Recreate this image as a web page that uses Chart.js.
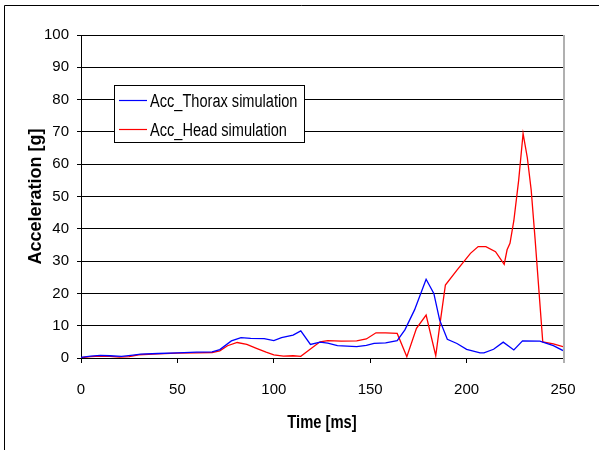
<!DOCTYPE html>
<html>
<head>
<meta charset="utf-8">
<script src="https://cdn.jsdelivr.net/npm/chart.js@4"></script>
<style>
html,body{margin:0;padding:0;background:#fff;}
#wrap{position:relative;width:599px;height:450px;}
canvas{display:block;}
</style>
</head>
<body>
<div id="wrap"><canvas id="c" width="599" height="450"></canvas></div>
<script>
// ---- data ----
const seriesNames = ['Acc_Thorax simulation', 'Acc_Head simulation'];
const thoraxTime = [0,5,10,15,21,27,31,40,50,60,68,72,78,83,88,95,100,104,110,114,119,124,128,133,143,148,152,158,164,168,173,179,183,186,190,195,200,207,209,214,219,224.5,229,238,245,250];
const thoraxAcc  = [0.2,0.6,0.8,0.7,0.5,0.9,1.2,1.4,1.6,1.8,1.9,2.6,5.3,6.3,6.1,6.0,5.4,6.3,7.1,8.4,4.2,4.9,4.6,3.8,3.5,3.9,4.5,4.7,5.4,8.7,14.9,24.4,20.0,11.8,5.8,4.5,2.7,1.6,1.6,2.7,4.9,2.5,5.3,5.2,3.8,2.3];
const headTime = [0,5,10,15,20,25,30,40,50,60,68,72,76,81,86,91,96,100,105,110,114,119,124,128,135,143,148,153,158,164,169,174,179,184,186,189,195,202,206,210,215,219.5,221,222.5,224.5,227,229.3,231.5,233.5,235.5,239.5,245,250];
const headAcc  = [0.1,0.4,0.6,0.5,0.3,0.4,1.0,1.3,1.5,1.6,1.7,2.2,3.8,4.8,4.2,3.0,1.8,1.0,0.6,0.7,0.5,2.8,5.0,5.4,5.2,5.3,5.9,7.8,7.8,7.6,0.4,9.2,13.3,0.7,9.7,22.6,27.2,32.4,34.5,34.5,32.9,29.0,33.5,35.5,42.5,55,69.5,62,52,37,5.0,4.4,3.5];
const xTitle = 'Time [ms]';
const yTitle = 'Acceleration [g]';

const toPts = (t, v) => t.map((x, i) => ({x: x, y: v[i]}));

const decor = {
  id: 'decor',
  afterDraw(chart) {
    const ctx = chart.ctx, a = chart.chartArea;
    ctx.save();
    // outer frame (top + left)
    ctx.strokeStyle = '#000'; ctx.lineWidth = 1;
    ctx.beginPath(); ctx.moveTo(4.5, 450); ctx.lineTo(4.5, 5.5); ctx.lineTo(599, 5.5); ctx.stroke();
    // right edge of plot area
    ctx.strokeStyle = '#b0b0b0'; ctx.lineWidth = 2;
    ctx.beginPath(); ctx.moveTo(a.right + 1, a.top); ctx.lineTo(a.right + 1, a.bottom + 5); ctx.stroke();
    // x axis title (condensed bold)
    ctx.save();
    ctx.fillStyle = '#000';
    ctx.font = 'bold 18px "Liberation Sans", Arial, sans-serif';
    ctx.textBaseline = 'middle'; ctx.textAlign = 'center';
    ctx.translate((a.left + a.right) / 2, 423);
    ctx.scale(0.82, 1);
    ctx.fillText(xTitle, 0, 0);
    ctx.restore();
    // legend box
    const bx = 114.5, by = 85.5, bw = 190, bh = 57;
    ctx.fillStyle = '#fff'; ctx.fillRect(bx, by, bw, bh);
    ctx.strokeStyle = '#000'; ctx.lineWidth = 1; ctx.strokeRect(bx, by, bw, bh);
    const rows = [100.5, 129.5];
    chart.data.datasets.forEach((ds, i) => {
      ctx.strokeStyle = ds.borderColor; ctx.lineWidth = 1.2;
      ctx.beginPath(); ctx.moveTo(119, rows[i]); ctx.lineTo(147, rows[i]); ctx.stroke();
      ctx.save();
      ctx.fillStyle = '#000';
      ctx.font = '18px "Liberation Sans", Arial, sans-serif';
      ctx.textBaseline = 'middle'; ctx.textAlign = 'left';
      ctx.translate(150, rows[i] + 1.5);
      ctx.scale(0.81, 1);
      ctx.fillText(ds.label, 0, 0);
      ctx.restore();
    });
    ctx.restore();
  }
};

new Chart(document.getElementById('c'), {
  type: 'line',
  data: {
    datasets: [
      {label: seriesNames[0], data: toPts(thoraxTime, thoraxAcc), borderColor: '#0000ff', borderWidth: 1.3, pointRadius: 0, tension: 0, fill: false},
      {label: seriesNames[1], data: toPts(headTime, headAcc), borderColor: '#ff0000', borderWidth: 1.3, pointRadius: 0, tension: 0, fill: false}
    ]
  },
  options: {
    responsive: false,
    animation: false,
    devicePixelRatio: 1,
    layout: {padding: {left: 0, top: 35, right: 36, bottom: 0}},
    plugins: {legend: {display: false}, tooltip: {enabled: false}},
    scales: {
      x: {
        type: 'linear', min: 0, max: 250,
        ticks: {stepSize: 50, color: '#000', padding: 18, maxRotation: 0,
                font: {family: '"Liberation Sans", Arial, sans-serif', size: 15}},
        grid: {drawOnChartArea: false, drawTicks: true, tickLength: 5, color: '#000'},
        border: {color: '#000', width: 1},
        title: {display: false, text: xTitle},
        afterFit(s) { s.height = 92; }
      },
      y: {
        min: 0, max: 100,
        ticks: {stepSize: 10, color: '#000', padding: 8,
                font: {family: '"Liberation Sans", Arial, sans-serif', size: 15}},
        grid: {color: '#000', tickLength: 4, lineWidth: 1},
        border: {color: '#000', width: 1},
        title: {display: true, text: yTitle, color: '#000', padding: {top: 25, bottom: 0},
                font: {family: '"Liberation Sans", Arial, sans-serif', size: 18, weight: 'bold'}},
        afterFit(s) { s.width = 81; }
      }
    }
  },
  plugins: [decor]
});
</script>
</body>
</html>
